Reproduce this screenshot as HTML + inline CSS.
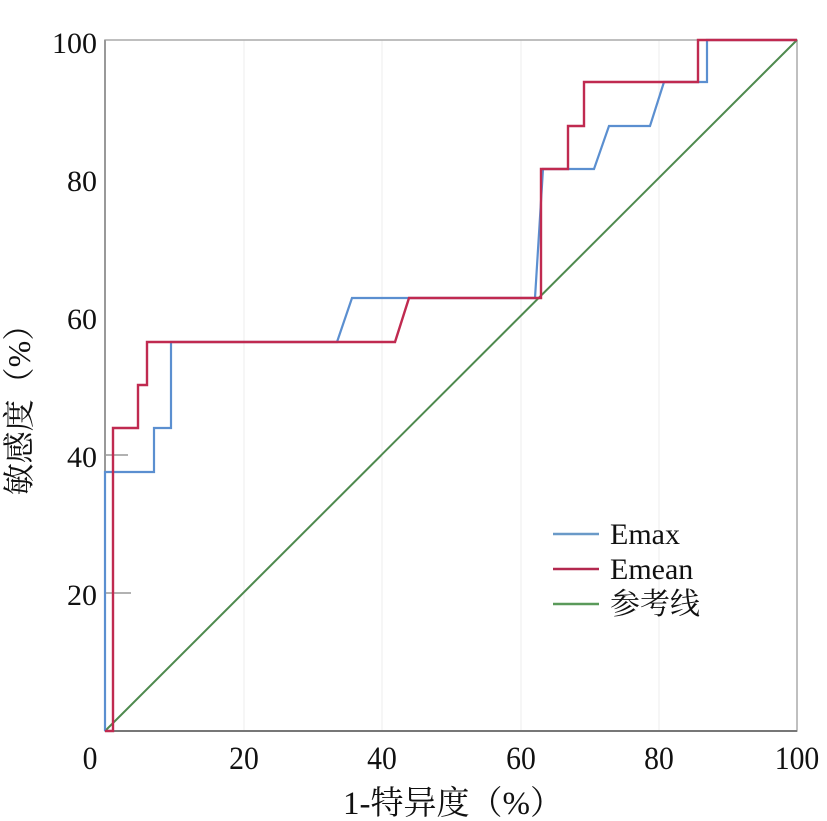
<!DOCTYPE html>
<html><head><meta charset="utf-8"><style>
html,body{margin:0;padding:0;background:#fff;width:827px;height:821px;overflow:hidden}
svg text{font-family:"Liberation Serif","Noto Serif CJK SC",serif;fill:#111}
</style></head><body>
<svg width="827" height="821" viewBox="0 0 827 821" xmlns="http://www.w3.org/2000/svg">
<g stroke="#ececec" stroke-width="1">
<line x1="244" y1="40" x2="244" y2="731"/><line x1="382" y1="40" x2="382" y2="731"/>
<line x1="521" y1="40" x2="521" y2="731"/><line x1="659" y1="40" x2="659" y2="731"/>
</g>
<rect x="105" y="40" width="692" height="691" fill="none" stroke="#aaa" stroke-width="1.5"/>
<line x1="105" y1="731" x2="797" y2="731" stroke="#777" stroke-width="2"/>
<line x1="105" y1="40" x2="105" y2="731" stroke="#999" stroke-width="2"/>
<g stroke="#999" stroke-width="1.5">
<line x1="105" y1="455" x2="128" y2="455"/><line x1="105" y1="593" x2="131" y2="593"/>
</g>
<line x1="105" y1="731" x2="797" y2="40" stroke="#4e8a4e" stroke-width="2"/>
<polyline fill="none" stroke="#5b8fd0" stroke-width="2.2" points="105,731 105,472 154,472 154,428 171,428 171,342 337,342 352,298 535,298 543,169 594,169 609,126 650,126 664,82 707,82 707,40 797,40"/>
<polyline fill="none" stroke="#c02a50" stroke-width="2.4" points="105,731 113,731 113,428 138,428 138,385 147,385 147,342 395,342 409,298 541,298 541,169 568,169 568,126 584,126 584,82 698,82 698,40 797,40"/>
<g font-size="30" text-anchor="end">
<text x="97" y="53">100</text>
<text x="97" y="191">80</text>
<text x="97" y="329">60</text>
<text x="97" y="467">40</text>
<text x="97" y="605">20</text>
</g>
<g font-size="33" text-anchor="middle">
<text x="90" y="769" transform="translate(90 0) scale(0.9 1) translate(-90 0)">0</text>
<text x="244" y="769" transform="translate(244 0) scale(0.9 1) translate(-244 0)">20</text>
<text x="382" y="769" transform="translate(382 0) scale(0.9 1) translate(-382 0)">40</text>
<text x="521" y="769" transform="translate(521 0) scale(0.9 1) translate(-521 0)">60</text>
<text x="659" y="769" transform="translate(659 0) scale(0.9 1) translate(-659 0)">80</text>
<text x="797" y="769" transform="translate(797 0) scale(0.9 1) translate(-797 0)">100</text>
</g>
<text x="453" y="814" font-size="33" text-anchor="middle">1-特异度（%）</text>
<text x="0" y="0" font-size="32" text-anchor="middle" transform="translate(30 402) rotate(-90)">敏感度（%）</text>
<g stroke-width="2.4">
<line x1="553" y1="534" x2="599" y2="534" stroke="#6a9ac8"/>
<line x1="553" y1="569" x2="599" y2="569" stroke="#b3284f"/>
<line x1="553" y1="604" x2="599" y2="604" stroke="#5a9a5a"/>
</g>
<g font-size="30">
<text x="610" y="544">Emax</text>
<text x="610" y="579">Emean</text>
<text x="610" y="614">参考线</text>
</g>
</svg>
</body></html>
